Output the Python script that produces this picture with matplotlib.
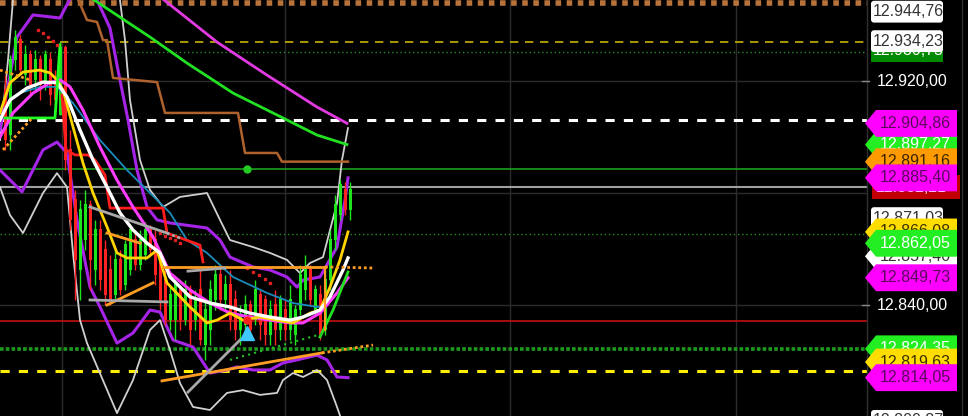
import numpy as np
import matplotlib.pyplot as plt
from matplotlib.patches import Polygon, FancyBboxPatch, Rectangle

# ---- candles (one per bar) ----
opens = [12916.8, 12900.7, 12927.5, 12934.6, 12922.1, 12929.3, 12920.4, 12927.5, 12918.6, 12927.5,
         12920.4, 12907.9, 12931.8, 12895.4, 12877.5, 12852.5, 12863.2, 12875.7, 12852.5, 12866.8,
         12859.6, 12852.5, 12843.6, 12856.1, 12847.1, 12852.5, 12863.2, 12854.3, 12857.9, 12866.8,
         12863.2, 12856.1, 12848.9, 12834.6, 12834.6, 12845.4, 12834.6, 12845.4, 12834.6, 12845.4,
         12825.7, 12831.1, 12841.8, 12850.7, 12841.8, 12847.1, 12841.8, 12831.1, 12832.9, 12840.0,
         12834.6, 12843.6, 12841.8, 12829.3, 12840.0, 12831.1, 12838.2, 12831.1, 12829.3, 12838.2,
         12845.4, 12852.5, 12838.2, 12843.6, 12831.1, 12848.9, 12863.2, 12872.1, 12881.1, 12873.9]
highs = [12922.1, 12929.3, 12938.2, 12936.4, 12932.9, 12931.1, 12931.1, 12929.3, 12931.1, 12930.4,
         12923.9, 12933.9, 12932.9, 12902.5, 12881.1, 12877.5, 12881.1, 12877.5, 12870.4, 12870.4,
         12863.2, 12857.9, 12859.6, 12859.6, 12863.2, 12868.6, 12866.8, 12866.8, 12869.6, 12868.6,
         12866.8, 12859.6, 12852.5, 12847.1, 12848.9, 12847.1, 12848.9, 12847.1, 12845.4, 12852.5,
         12841.8, 12848.9, 12854.3, 12853.2, 12850.7, 12852.5, 12845.4, 12840.0, 12843.6, 12841.8,
         12848.9, 12845.4, 12843.6, 12841.8, 12845.4, 12843.6, 12841.8, 12847.1, 12840.0, 12854.3,
         12857.9, 12854.3, 12847.1, 12847.1, 12852.5, 12866.8, 12879.3, 12884.6, 12883.9, 12883.9]
lows = [12895.4, 12895.4, 12923.9, 12922.1, 12918.6, 12915.0, 12916.8, 12913.2, 12916.8, 12911.4,
        12911.4, 12907.9, 12888.2, 12866.8, 12841.8, 12841.8, 12859.6, 12845.4, 12847.1, 12845.4,
        12840.0, 12840.0, 12841.8, 12843.6, 12845.4, 12850.7, 12852.5, 12852.5, 12856.1, 12857.9,
        12847.1, 12838.2, 12832.9, 12831.1, 12827.5, 12831.1, 12832.9, 12825.7, 12831.1, 12825.7,
        12820.4, 12825.7, 12838.2, 12838.2, 12838.2, 12831.1, 12827.5, 12825.7, 12827.5, 12829.3,
        12832.9, 12827.5, 12825.7, 12825.7, 12825.7, 12827.5, 12827.5, 12827.5, 12825.7, 12836.4,
        12841.8, 12840.0, 12836.4, 12827.5, 12829.3, 12845.4, 12859.6, 12870.4, 12872.1, 12870.4]
closes = [12898.9, 12927.5, 12935.4, 12923.9, 12929.3, 12918.6, 12927.5, 12918.6, 12929.3, 12915.0,
          12913.2, 12931.8, 12891.8, 12870.4, 12856.1, 12873.9, 12875.7, 12856.1, 12866.8, 12848.9,
          12843.6, 12841.8, 12856.1, 12845.4, 12861.4, 12866.8, 12854.3, 12863.2, 12866.8, 12859.6,
          12850.7, 12841.8, 12834.6, 12843.6, 12847.1, 12834.6, 12845.4, 12831.1, 12841.8, 12827.5,
          12838.2, 12845.4, 12850.7, 12841.8, 12847.1, 12834.6, 12831.1, 12836.4, 12840.0, 12831.1,
          12845.4, 12832.9, 12829.3, 12838.2, 12831.1, 12841.8, 12831.1, 12841.8, 12838.2, 12850.7,
          12852.5, 12841.8, 12845.4, 12829.3, 12848.9, 12863.2, 12875.7, 12882.9, 12873.9, 12881.1]

# ---- indicator lines (bar, price) ----
ma_long_x = [31.0, 43.4, 53.4, 63.4, 69.4]
ma_long_y = [12951.5, 12933.9, 12922.1, 12910.7, 12904.9]

ma_green_x = [17.5, 30.0, 37.4, 46.6, 56.6, 63.4, 69.4]
ma_green_y = [12950.5, 12935.7, 12926.4, 12915.7, 12906.8, 12900.7, 12897.3]

kijun_x = [15.4, 17.4, 19.4, 20.6, 21.4, 22.6, 31.4, 33.0, 47.6, 49.0, 55.4, 56.4, 69.6]
kijun_y = [12950.0, 12941.8, 12941.1, 12934.6, 12934.6, 12921.1, 12919.6, 12908.6, 12908.6,
           12894.3, 12894.3, 12891.2, 12891.2]

bb_up_x = [0, 3.4, 6.6, 12, 14.4, 17, 19.4, 22, 23.6, 25.6, 27.4, 29.4, 31.4, 34, 41.4, 44, 46,
           50.6, 54, 57.4, 59.4, 60.6, 64, 67.4, 69, 69.6]
bb_up_y = [12902.5, 12935.7, 12943.6, 12942.5, 12950.7, 12959.6, 12948.9, 12938.9, 12923.9,
           12906.1, 12888.2, 12875.0, 12870.4, 12869.3, 12867.5, 12863.2, 12857.1, 12853.6,
           12852.5, 12850.0, 12846.4, 12848.9, 12850.0, 12860.7, 12877.5, 12885.4]

bb_lo_x = [0, 4.4, 8.6, 11.4, 13.4, 15.4, 18, 20, 23.4, 26.6, 30, 32, 34.6, 38.6, 42, 45.4, 47.4,
           50.6, 54, 56.6, 59.4, 63.4, 65.4, 67.4, 69.6]
bb_lo_y = [12888.2, 12880.4, 12895.4, 12898.2, 12894.3, 12870.4, 12846.4, 12839.3, 12826.4,
           12830.0, 12838.2, 12837.5, 12827.5, 12825.0, 12815.7, 12816.8, 12817.9, 12816.8,
           12816.8, 12819.3, 12820.4, 12822.1, 12820.4, 12814.3, 12814.05]

env_up_x = [0, 1.6, 2.6, 3.2, 23, 24, 25, 26, 28, 30, 32.6, 36, 41.4, 44, 46, 50.6, 54, 57.4,
            60, 62, 64.6, 67.4, 68.4, 69.6]
env_up_y = [12898.9, 12927.5, 12948.9, 12959.6, 12959.6, 12948.9, 12934.6, 12913.2, 12891.8,
            12881.1, 12875.0, 12878.6, 12880.0, 12870.4, 12863.2, 12860.7, 12858.6, 12856.1,
            12851.4, 12855.0, 12857.1, 12876.4, 12891.8, 12903.2]

env_lo_x = [0, 2, 4.6, 8.6, 11.4, 13.4, 14.6, 16, 17.4, 23.4, 26.6, 30, 32, 34, 36, 38.6, 42,
            45.4, 48.6, 52, 55.4, 56.6, 58.6, 60.6, 63.4, 65.4, 67.4, 69]
env_lo_y = [12882.1, 12872.1, 12865.7, 12880.0, 12887.1, 12882.1, 12858.6, 12834.6, 12826.4,
            12801.4, 12813.2, 12831.1, 12834.6, 12823.9, 12812.1, 12803.6, 12802.5, 12808.6,
            12809.6, 12807.9, 12808.6, 12813.2, 12815.7, 12814.3, 12816.8, 12813.2, 12803.6,
            12795.4]

ma_yel_x = [0, 2, 4.6, 8, 10, 11.4, 12.6, 14.6, 16.6, 18.6, 21.4, 23.4, 25.4, 29.4, 31.4, 33.4,
            38, 41.4, 43.4, 46, 48.6, 52, 55.4, 58.6, 62, 64, 66, 68, 69.6]
ma_yel_y = [12908.6, 12919.4, 12923.2, 12923.9, 12922.9, 12920.4, 12916.8, 12903.6, 12890.7,
            12880.0, 12867.9, 12858.6, 12856.8, 12856.8, 12859.6, 12847.9, 12839.3, 12833.6,
            12834.6, 12837.1, 12834.6, 12835.7, 12834.6, 12833.6, 12837.1, 12838.2, 12846.4,
            12856.1, 12866.1]

ma_wht_x = [0, 2, 5.4, 8.6, 11.4, 13.4, 16, 18.6, 21.4, 24, 26.6, 29.4, 32, 34, 38, 42, 46, 50,
            54, 58, 60.6, 64, 66, 68.6, 69.6]
ma_wht_y = [12906.1, 12913.2, 12917.5, 12919.6, 12919.4, 12914.3, 12902.5, 12891.8, 12882.1,
            12872.9, 12866.8, 12862.1, 12858.6, 12850.0, 12842.9, 12840.7, 12839.3, 12837.1,
            12835.7, 12834.6, 12835.7, 12838.2, 12842.9, 12852.5, 12856.8]

ma_pink_x = [0, 2.6, 6.6, 10, 12, 14, 16.6, 20, 23.4, 26.6, 30.6, 34, 38, 42, 46, 50, 54, 58,
             60.6, 64, 67.4, 69.6]
ma_pink_y = [12900.0, 12908.6, 12915.7, 12919.4, 12920.4, 12917.9, 12909.6, 12896.4, 12884.6,
             12875.0, 12864.3, 12851.4, 12845.4, 12840.7, 12837.1, 12835.7, 12834.6, 12833.6,
             12833.6, 12837.1, 12844.3, 12849.73]

ma_teal_x = [4, 8, 11.4, 14.6, 20, 25.4, 30, 34, 37.4, 41.4, 46.6, 53.4, 58.6, 63.4, 65]
ma_teal_y = [12915.7, 12917.9, 12917.9, 12912.1, 12898.9, 12888.2, 12880.0, 12872.9, 12863.2,
             12858.6, 12850.0, 12844.3, 12840.7, 12839.3, 12839.6]

red_step_x = [12.4, 13.2, 15, 17.6, 19, 21, 22, 32.6, 33.4, 40, 40.6]
red_step_y = [12915.0, 12895.4, 12893.6, 12893.6, 12891.8, 12886.4, 12874.6, 12874.6, 12865.7,
              12861.4, 12855.4]

psar_x = [7.6, 8.6, 9.6, 10.6, 11.4, 32, 33, 34, 35, 36, 49.4, 50.6, 51.8, 53, 54]
psar_y = [12938.2, 12937.1, 12935.7, 12934.3, 12932.9, 12865.7, 12864.6, 12863.9, 12863.2,
          12862.1, 12853.2, 12851.8, 12850.7, 12849.3, 12847.9]

lime_step_x = [1, 11, 12]
lime_step_y = [12906.8, 12906.8, 12932.9]
lime_end_x = [64, 66.6, 69.6]
lime_end_y = [12828.6, 12838.2, 12851.8]

# horizontal levels: price, colour, width, style
levels = [
    (12947.9, '#b8733a', 4.0, (0, (1, 1))),
    (12934.0, '#c8b400', 1.2, (0, (5, 4))),
    (12930.4, '#2a8a2a', 1.0, (0, (1, 2))),
    (12906.0, '#ffffff', 2.2, (0, (3, 3))),
    (12888.6, '#1aa01a', 1.2, '-'),
    (12882.1, '#a0a0a0', 1.5, '-'),
    (12865.4, '#2a8a2a', 1.0, (0, (1, 2))),
    (12834.2, '#c01010', 1.2, '-'),
    (12824.4, '#1f9a1f', 2.6, (0, (1, 0.6))),
    (12816.4, '#ffee00', 2.2, (0, (3, 3))),
]

# right-axis price tags: price, text, kind, background, text colour
tags = [
    (12944.76, '12.944,76', 'box', '#ffffff', '#333333'),
    (12930.75, '12.930,75', 'rect', '#008a00', '#ffffff'),
    (12934.23, '12.934,23', 'box', '#ffffff', '#333333'),
    (12920.00, '12.920,00', 'plain', None, '#ffffff'),
    (12840.00, '12.840,00', 'plain', None, '#ffffff'),
    (12897.27, '12.897,27', 'tag', '#22ee22', '#ffffff'),
    (12891.16, '12.891,16', 'tag', '#ff9a00', '#3a2400'),
    (12882.10, '12.882,21', 'wide', '#c00000', '#ffffff'),
    (12885.40, '12.885,40', 'tag', '#ff00ff', '#5c0a5c'),
    (12904.86, '12.904,86', 'tag', '#ff00ff', '#5c0a5c'),
    (12871.03, '12.871,03', 'box', '#ffffff', '#333333'),
    (12866.08, '12.866,08', 'tag', '#ffdd00', '#3a3000'),
    (12857.40, '12.857,40', 'tag', '#ffffff', '#333333'),
    (12862.05, '12.862,05', 'tag', '#22ee22', '#ffffff'),
    (12849.73, '12.849,73', 'tag', '#ff00ff', '#5c0a5c'),
    (12824.35, '12.824,35', 'tag', '#22ee22', '#ffffff'),
    (12819.63, '12.819,63', 'tag', '#ffdd00', '#3a3000'),
    (12814.05, '12.814,05', 'tag', '#ff00ff', '#5c0a5c'),
    (12798.60, '12.800,87', 'box', '#ffffff', '#333333'),
]

W, H = 968, 416
fig = plt.figure(figsize=(W / 100, H / 100), dpi=100, facecolor='black')
ax = fig.add_axes([0, 0, 867 / W, 1])
ax.set_facecolor('black')
ax.set_xlim(0, 173.4)
ax.set_ylim(12800.36, 12948.93)
ax.axis('off')

# grid
for gx in [12.4, 57, 102, 147.2]:
    ax.axvline(gx, color='#2c2c2c', lw=1, zorder=0)
for gy in [12920, 12880, 12840]:
    ax.axhline(gy, color='#2c2c2c', lw=1, zorder=0)

for p, c, lw, ls in levels:
    ax.axhline(p, color=c, lw=lw, ls=ls, zorder=1)

# outer envelope and bands
ax.plot(env_up_x, env_up_y, color='#d0d0d0', lw=1.3, zorder=2)
ax.plot(env_lo_x, env_lo_y, color='#d0d0d0', lw=1.3, zorder=2)
ax.plot(bb_up_x, bb_up_y, color='#a524e8', lw=2.2, zorder=3)
ax.plot(bb_lo_x, bb_lo_y, color='#a524e8', lw=2.2, zorder=3)
ax.plot(ma_long_x, ma_long_y, color='#e23ae2', lw=2, zorder=3)
ax.plot(ma_green_x, ma_green_y, color='#22e022', lw=2, zorder=3)
ax.plot(kijun_x, kijun_y, color='#b0622e', lw=1.8, zorder=3)

# candles
x = np.arange(len(closes)) + 1
o = np.array(opens); c = np.array(closes)
col = np.where(c >= o, '#1ee41e', '#ff2222')
ax.vlines(x, lows, highs, colors=col, lw=1, zorder=4)
ax.bar(x, np.abs(c - o) + 0.3, bottom=np.minimum(o, c), width=0.6, color=col, zorder=4)

# moving averages
ax.plot(ma_teal_x, ma_teal_y, color='#1a8cbc', lw=1.3, zorder=5)
ax.plot(red_step_x, red_step_y, color='#ff1c1c', lw=2, zorder=5)
ax.plot(ma_pink_x, ma_pink_y, color='#ff3cff', lw=2.2, zorder=5)
ax.plot(ma_yel_x, ma_yel_y, color='#ffd400', lw=2, zorder=5)
ax.plot(ma_wht_x, ma_wht_y, color='#ffffff', lw=2.4, zorder=5)
ax.plot(lime_step_x, lime_step_y, color='#22ff22', lw=2, zorder=5)
ax.plot(lime_end_x, lime_end_y, color='#22e022', lw=2, zorder=5)
ax.plot(psar_x, psar_y, ls='none', marker='s', ms=1.6, color='#e02020', zorder=5)

# trend lines
orange = '#ff9c22'
ax.plot([32.6, 65], [12853.6, 12853.6], color=orange, lw=2, zorder=6)
ax.plot([65, 75], [12853.6, 12853.2], color=orange, lw=2, ls=(0, (1, 1)), zorder=6)
ax.plot([65, 65], [12853.6, 12831.1], color=orange, lw=1.5, zorder=6)
ax.plot([32.4, 64.4], [12812.9, 12822.9], color=orange, lw=2, zorder=6)
ax.plot([64.4, 74.6], [12822.9, 12825.7], color=orange, lw=2, ls=(0, (1, 1)), zorder=6)
ax.plot([21.4, 28], [12865.7, 12862.1], color=orange, lw=2, zorder=6)
ax.plot([21.4, 30.6], [12840.0, 12847.9], color=orange, lw=2, zorder=6)
ax.plot([0, 6], [12923.9, 12920.4], color=orange, lw=2, ls=(0, (1, 1)), zorder=6)
ax.plot([0.6, 6.6], [12895.4, 12907.1], color=orange, lw=2, ls=(0, (1, 1)), zorder=6)
gray = '#a8a8a8'
ax.plot([18, 33.4], [12875.0, 12865.7], color=gray, lw=2, zorder=6)
ax.plot([33.4, 36], [12865.7, 12863.9], color=gray, lw=2, ls=(0, (1, 1)), zorder=6)
ax.plot([18, 33.4], [12841.8, 12841.1], color=gray, lw=2, zorder=6)
ax.plot([37.6, 45], [12852.1, 12853.2], color=gray, lw=2, zorder=6)
ax.plot([37.6, 48], [12808.9, 12827.5], color=gray, lw=2, zorder=6)
ax.plot([46, 65], [12820.4, 12830.0], color='#22c022', lw=1.5, ls=(0, (1, 2)), zorder=6)

# markers
ax.plot([49.4], [12888.6], 'o', color='#22cc22', ms=5, zorder=7)
ax.plot([49.4], [12834.6], 'o', color='#ff2020', ms=5, zorder=7)
ax.plot([49.4], [12830.0], '^', color='#3fc8ff', ms=10, zorder=7)

# ---- price scale ----
ax2 = fig.add_axes([860 / W, 0, 108 / W, 1])
ax2.set_xlim(860, 968)
ax2.set_ylim(12800.36, 12948.93)
ax2.axis('off')
ax2.set_facecolor('none')
ax2.plot([867, 867], [12800.36, 12948.93], color='#303030', lw=1)
ax2.plot([962, 962], [12800.36, 12948.93], color='#303030', lw=1)
for ty in [12920, 12840]:
    ax2.plot([862, 869], [ty, ty], color='#888888', lw=1)

font = dict(family=['Liberation Sans', 'DejaVu Sans'], fontsize=11.5)
h = 4.8
for z, (p, text, kind, bg, fg) in enumerate(tags):
    zz = 2 + z
    if kind == 'tag':
        ax2.add_patch(Polygon([(865, p), (876, p + h), (957, p + h), (957, p - h), (876, p - h)],
                              closed=True, fc=bg, ec='none', zorder=zz))
        ax2.text(880, p, text, color=fg, va='center', ha='left', zorder=zz, **font)
    elif kind == 'box':
        ax2.add_patch(FancyBboxPatch((871, p - 3.9), 72, 7.8, boxstyle='round,pad=0,rounding_size=3',
                                     mutation_aspect=1 / 2.8, fc=bg, ec='none', zorder=zz))
        ax2.text(873, p, text, color=fg, va='center', ha='left', zorder=zz, **font)
    elif kind == 'rect':
        ax2.add_patch(Rectangle((871, p - 4.0), 72, 8.0, fc=bg, ec='none', zorder=zz))
        ax2.text(873, p, text, color=fg, va='center', ha='left', zorder=zz, **font)
    elif kind == 'wide':
        ax2.add_patch(Rectangle((872, p - 4.3), 88, 8.6, fc=bg, ec='none', zorder=zz))
        ax2.text(876, p, text, color=fg, va='center', ha='left', zorder=zz, **font)
    else:
        ax2.text(877, p, text, color=fg, va='center', ha='left', zorder=zz, **font)

fig.savefig('out.png', dpi=100, facecolor='black')
